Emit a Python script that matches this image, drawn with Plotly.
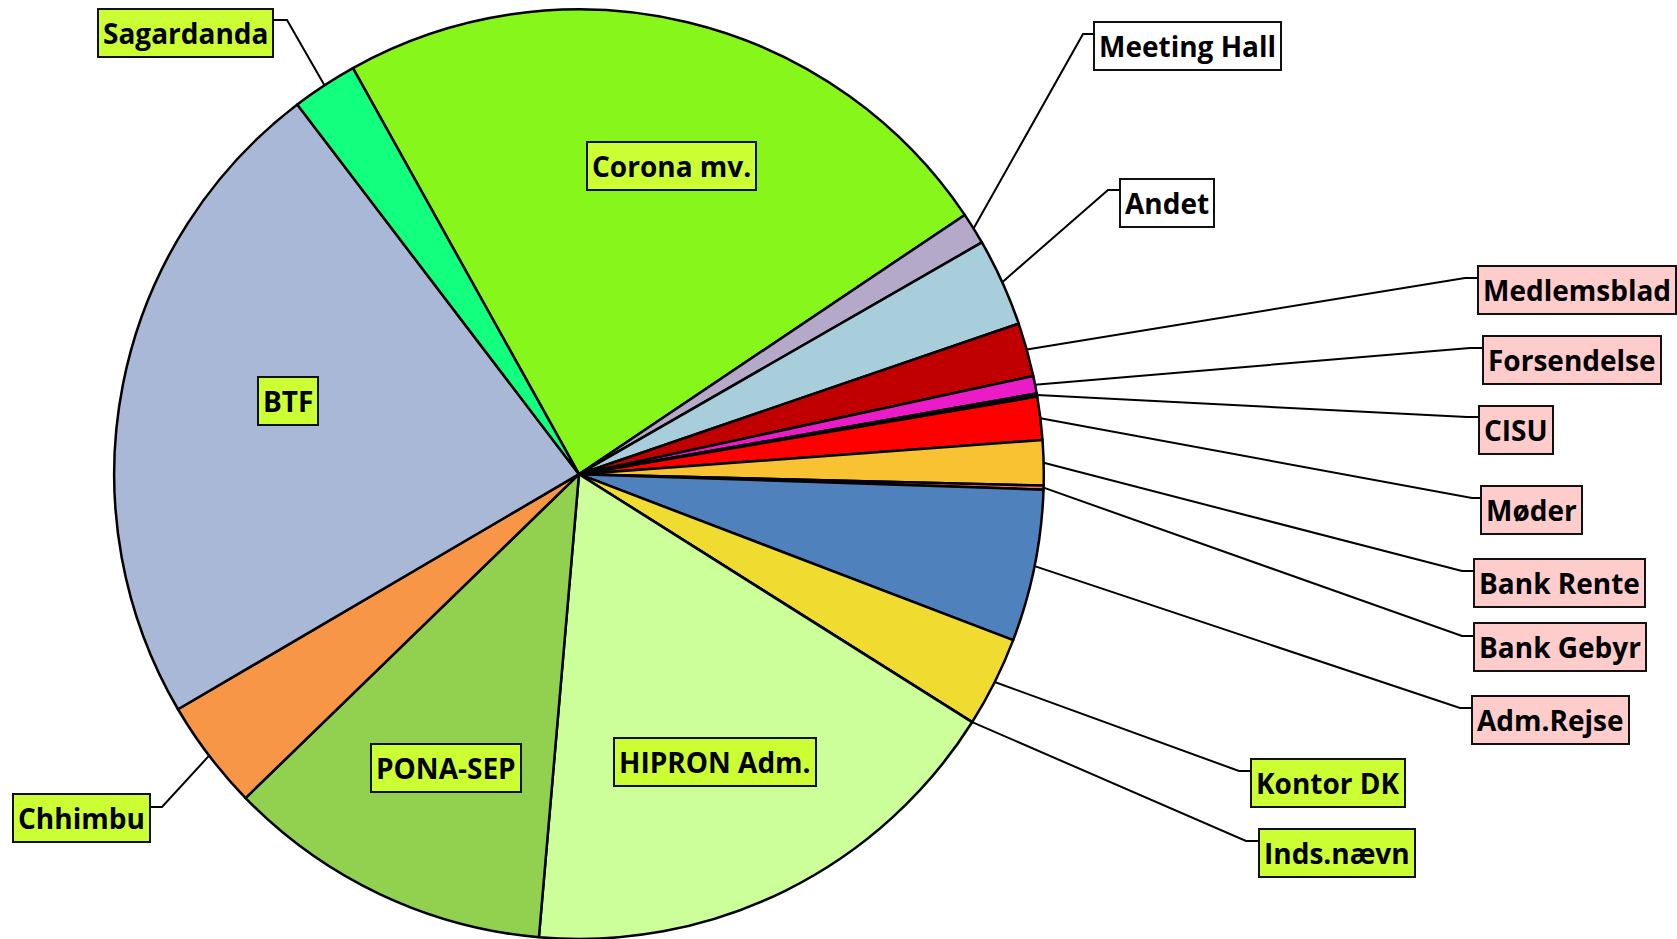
import math
import plotly.graph_objects as go

# slices in drawing order (clockwise from the Corona slice)
labels = ["Corona mv.", "Meeting Hall", "Andet", "Medlemsblad", "Forsendelse", "CISU",
          "Møder", "Bank Rente", "Bank Gebyr", "Adm.Rejse", "Kontor DK", "Inds.nævn",
          "HIPRON Adm.", "PONA-SEP", "Chhimbu", "BTF", "Sagardanda"]
# estimated shares (%)
values = [23.67, 1.11, 3.06, 1.86, 0.61, 0.11,
          1.50, 1.56, 0.14, 5.28, 3.14, 0.01,
          17.42, 11.36, 3.83, 23.08, 2.28]
colors = ["#87F71B", "#B4A9C9", "#A8CDDB", "#C00000", "#EC1BC8", "#3A0A3A",
          "#FF0000", "#F9C233", "#F2706A", "#4F81BD", "#F0DC30", "#FFFF00",
          "#CCFF99", "#92D050", "#F79646", "#A9B8D6", "#13FF7E"]

# label box fill per group
box_green = ["Corona mv.", "BTF", "PONA-SEP", "HIPRON Adm.", "Sagardanda", "Chhimbu",
             "Kontor DK", "Inds.nævn"]
box_pink = ["Medlemsblad", "Forsendelse", "CISU", "Møder", "Bank Rente", "Bank Gebyr",
            "Adm.Rejse"]
box_white = ["Meeting Hall", "Andet"]

W, H = 1677, 939
ROTATION = -29.1
PIE_X = [0.0680, 0.6225]
PIE_Y = [0.0, 0.99]

R = min(W * (PIE_X[1] - PIE_X[0]), H * (PIE_Y[1] - PIE_Y[0])) / 2
CX = W * (PIE_X[0] + PIE_X[1]) / 2
CY = H * (1 - PIE_Y[0]) - R

# labels inside the pie: centre of box in pixels
inside = {"Corona mv.": (671, 166), "BTF": (288, 401), "PONA-SEP": (446, 768),
          "HIPRON Adm.": (715, 762)}
# labels outside: box edge x, box centre y, elbow x, elbow y, side
outside = {
    "Sagardanda": (274, 33, 287, 20, "right"),
    "Meeting Hall": (1093, 46, 1083, 34, "left"),
    "Andet": (1119, 203, 1108, 190, "left"),
    "Medlemsblad": (1477, 290, 1465, 278, "left"),
    "Forsendelse": (1482, 360, 1470, 348, "left"),
    "CISU": (1478, 430, 1467, 417, "left"),
    "Møder": (1480, 510, 1472, 498, "left"),
    "Bank Rente": (1473, 583, 1462, 571, "left"),
    "Bank Gebyr": (1473, 647, 1462, 636, "left"),
    "Adm.Rejse": (1471, 720, 1460, 708, "left"),
    "Kontor DK": (1250, 783, 1239, 771, "left"),
    "Inds.nævn": (1258, 853, 1246, 841, "left"),
    "Chhimbu": (151, 818, 162, 807, "right"),
}


def px(x):
    return x / W


def py(y):
    return 1 - y / H


def box_color(lab):
    if lab in box_green:
        return "#CCFF33"
    if lab in box_pink:
        return "#FFCCCC"
    return "#FFFFFF"


# mid angle of every slice, clockwise from 12 o'clock
total = sum(values)
mid = {}
acc = 0
for lab, v in zip(labels, values):
    mid[lab] = math.radians(ROTATION + (acc + v / 2) / total * 360)
    acc += v

fig = go.Figure(go.Pie(
    labels=labels, values=values, sort=False, direction="clockwise",
    rotation=ROTATION, textinfo="none", showlegend=False,
    marker=dict(colors=colors, line=dict(color="black", width=2.5)),
    domain=dict(x=PIE_X, y=PIE_Y),
))

font = dict(family="Open Sans", size=28, color="black")
annotations = []
shapes = []

for lab, (x, y) in inside.items():
    annotations.append(dict(
        x=px(x), y=py(y), xref="paper", yref="paper", text="<b>%s</b>" % lab,
        showarrow=False, font=font, bgcolor=box_color(lab), bordercolor="#111",
        borderwidth=2, borderpad=4, xanchor="center", yanchor="middle"))

for lab, (bx, by, ex, ey, side) in outside.items():
    a = mid[lab]
    sx = CX + R * math.sin(a)
    sy = CY - R * math.cos(a)
    shapes.append(dict(
        type="path", xref="paper", yref="paper",
        path="M %f %f L %f %f L %f %f" % (px(sx), py(sy), px(ex), py(ey), px(bx), py(ey)),
        line=dict(color="black", width=2)))
    annotations.append(dict(
        x=px(bx), y=py(by), xref="paper", yref="paper", text="<b>%s</b>" % lab,
        showarrow=False, font=font, bgcolor=box_color(lab), bordercolor="#111",
        borderwidth=2, borderpad=4, xanchor=side, yanchor="middle"))

fig.update_layout(
    width=W, height=H, margin=dict(l=0, r=0, t=0, b=0),
    paper_bgcolor="white", plot_bgcolor="white",
    annotations=annotations, shapes=shapes,
)

fig.write_html("out.html", config={"displayModeBar": False},
               post_script="document.body.style.margin='0';")
